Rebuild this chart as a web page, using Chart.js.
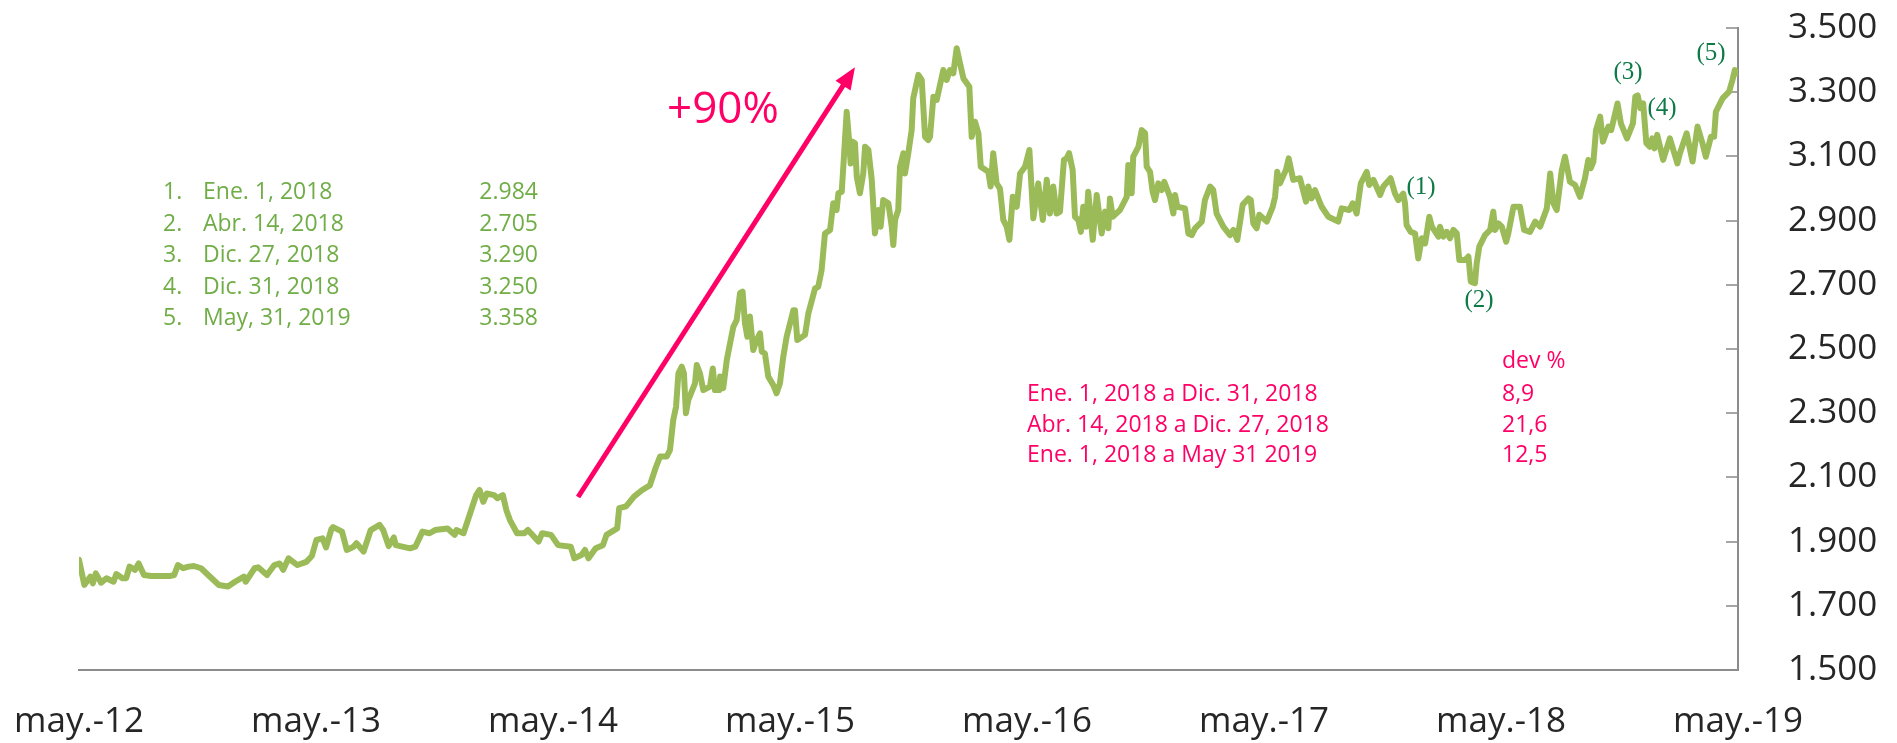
<!DOCTYPE html>
<html>
<head>
<meta charset="utf-8">
<script src="https://cdn.jsdelivr.net/npm/chart.js@4.4.1/dist/chart.umd.min.js"></script>
<style>
  html, body { margin: 0; padding: 0; background: #fff; }
  #wrap { width: 1897px; height: 743px; }
</style>
</head>
<body>
<div id="wrap"><canvas id="lineChart" width="1897" height="743"></canvas></div>
<script>
// meses desde may.-12 (eje x) y valores de la serie
const months = [
  0.00, 0.27, 0.58, 0.70, 0.85, 1.12, 1.39, 1.75, 1.89, 2.20, 2.39, 2.56, 2.84, 3.02, 3.29, 3.65,
  4.64, 4.82, 5.01, 5.28, 5.55, 5.82, 6.18, 6.54, 7.08, 7.54, 7.90, 8.35, 8.44, 8.89, 9.07, 9.52,
  9.89, 10.16, 10.34, 10.61, 11.06, 11.51, 11.79, 12.02, 12.33, 12.51, 12.78, 12.87, 13.32, 13.56,
  13.90, 14.05, 14.41, 14.77, 15.22, 15.40, 15.68, 15.94, 16.04, 16.76, 17.03, 17.39, 17.75, 18.03,
  18.66, 19.02, 19.11, 19.47, 19.83, 20.11, 20.28, 20.47, 20.65, 21.01, 21.19, 21.46, 21.64, 21.82,
  22.18, 22.55, 22.73, 23.27, 23.45, 23.90, 24.26, 24.90, 25.08, 25.44, 25.62, 25.80, 26.16, 26.53,
  26.71, 27.25, 27.35, 27.70, 28.10, 28.50, 28.90, 29.20,
  29.42, 29.76, 29.92, 30.09, 30.23, 30.35, 30.52, 30.63, 30.73, 30.85, 31.19, 31.28, 31.44, 31.61,
  31.95, 32.09, 32.20, 32.42, 32.46, 32.62, 32.80, 33.13, 33.30, 33.47, 33.60, 33.72, 33.84, 33.97,
  34.14, 34.31, 34.48, 34.57, 34.73, 34.90, 35.15, 35.32, 35.49, 35.66, 35.83, 36.17, 36.25, 36.37,
  36.76, 36.93, 37.27, 37.43, 37.60, 37.77, 38.03, 38.19, 38.36, 38.45, 38.62, 38.70, 38.87, 38.99,
  39.07, 39.17, 39.29, 39.38, 39.54, 39.71, 39.80, 39.97, 40.14, 40.30, 40.47, 40.59, 40.72, 40.98,
  41.15, 41.23, 41.32, 41.48, 41.57, 41.74, 41.82, 41.99, 42.16, 42.24, 42.50, 42.67, 42.84, 43.00,
  43.09, 43.26, 43.43, 43.76, 43.93, 44.10, 44.27, 44.44, 44.61, 44.78, 45.08, 45.20, 45.37, 45.54,
  45.66, 46.04, 46.16, 46.29, 46.46, 46.63, 46.80, 46.97, 47.11, 47.28, 47.48, 47.65, 47.90, 48.12,
  48.32, 48.57, 48.80, 49.00, 49.16, 49.33, 49.50, 49.67,
  49.87, 50.01, 50.13, 50.31, 50.43, 50.60, 50.73, 50.85, 50.99, 51.10, 51.33, 51.53, 51.78, 51.95,
  52.12, 52.20, 52.34, 52.71, 53.05, 53.13, 53.30, 53.38, 53.64, 53.81, 53.98, 54.06, 54.23, 54.36,
  54.48, 54.65, 54.82, 54.95, 55.24, 55.41, 55.50, 55.61, 56.00, 56.17, 56.34, 56.51, 56.85, 57.01,
  57.27, 57.43, 57.60, 57.94, 58.28, 58.45, 58.65, 58.92, 59.21, 59.33, 59.46, 59.63, 59.76, 60.14,
  60.44, 60.56, 60.67, 60.81, 61.11, 61.25, 61.48, 61.82, 62.13, 62.24, 62.41, 62.58, 62.92, 63.26,
  63.76, 63.93, 64.32, 64.49, 64.69, 64.90, 65.20, 65.33, 65.54, 65.88, 66.04, 66.41, 66.63, 66.80,
  67.05, 67.14, 67.22, 67.43, 67.65, 67.81,
  67.99, 68.16, 68.37, 68.50, 68.83, 68.91, 69.08, 69.25, 69.42, 69.59, 69.76, 69.89, 70.18, 70.35,
  70.47, 70.68, 70.77, 70.90, 71.19, 71.45, 71.61, 71.70, 71.87, 72.04, 72.26, 72.37, 72.63, 72.96,
  73.17, 73.47, 73.73, 73.98, 74.32, 74.49, 74.65, 74.82, 75.08, 75.24, 75.49, 75.75, 76.00, 76.25,
  76.42, 76.54, 76.68, 76.81, 77.02, 77.16, 77.44, 77.58, 77.90, 78.07, 78.38, 78.68, 78.80, 78.92,
  79.06, 79.20, 79.36, 79.53, 79.66, 79.77, 79.91, 80.21, 80.55, 80.93, 81.06, 81.40, 81.70, 81.95,
  82.20, 82.37, 82.63, 82.79, 82.88, 83.22, 83.55, 83.72, 83.84, 84.00
];

const values = [
  1843, 1765, 1791, 1770, 1801, 1772, 1786, 1775, 1799, 1786, 1786, 1822, 1812, 1832, 1796, 1793,
  1793, 1796, 1827, 1817, 1822, 1824, 1817, 1796, 1765, 1760, 1775, 1791, 1775, 1817, 1820, 1796,
  1827, 1832, 1812, 1848, 1827, 1837, 1855, 1905, 1910, 1882, 1939, 1945, 1931, 1874,
  1884, 1895, 1869, 1936, 1952, 1936, 1886, 1913, 1889, 1879, 1884, 1931, 1926, 1936,
  1941, 1921, 1936, 1926, 1993, 2045, 2061, 2024, 2050, 2045, 2035, 2045, 1998, 1967,
  1926, 1926, 1936, 1900, 1926, 1921, 1889, 1884, 1848, 1858, 1874, 1848, 1879, 1889,
  1921, 1941, 2004, 2010, 2040, 2060, 2075, 2130,
  2165, 2165, 2185, 2279, 2320, 2424, 2445, 2424, 2300, 2341, 2393, 2450, 2424, 2372,
  2383, 2439, 2372, 2372, 2414, 2378, 2466, 2569, 2590, 2674, 2679, 2580, 2538, 2601,
  2497, 2528, 2549, 2492, 2486, 2414, 2388, 2362, 2393, 2476, 2538, 2621, 2621, 2528,
  2544, 2611, 2689, 2694, 2746, 2860, 2871, 2954, 2933, 2985, 2990, 3068, 3239, 3151,
  3078, 3146, 3141, 3037, 2985, 3047, 3130, 3120, 3027, 2860, 2933, 2881, 2964, 2954,
  2881, 2824, 2902, 2933, 3068, 3110, 3047, 3110, 3182, 3281, 3354, 3338, 3161, 3151,
  3161, 3286, 3276, 3369, 3338, 3369, 3359, 3437, 3390, 3343, 3317, 3161, 3208, 3172,
  3068, 3052, 3006, 3110, 3016, 3000, 2902, 2881, 2840, 2974, 2943, 3047, 3068, 3120,
  2907, 3016, 2902, 3027, 2922, 3006, 2922, 2928,
  3089, 3094, 3110, 3058, 2912, 2902, 2865, 2943, 2881, 2990, 2840, 2980, 2860, 2928,
  2876, 2969, 2912, 2933, 2974, 3073, 2985, 3099, 3130, 3182, 3172, 3068, 3052, 2990,
  2964, 3016, 2995, 3021, 2974, 2922, 2980, 2943, 2938, 2860, 2855, 2876, 2897, 2964,
  3006, 2995, 2922, 2881, 2855, 2871, 2840, 2949, 2969, 2964, 2891, 2876, 2918, 2897,
  2943, 2974, 3052, 3016, 3058, 3094, 3027, 3032, 2959, 3006, 2969, 2995, 2943, 2912,
  2897, 2938, 2933, 2954, 2922, 3016, 3052, 3011, 3027, 2980, 3006, 3032, 2985, 2964,
  2984, 2954, 2886, 2865, 2860, 2782,
  2845, 2829, 2912, 2881, 2850, 2881, 2850, 2865, 2845, 2871, 2860, 2777, 2777, 2788,
  2710, 2705, 2767, 2819, 2855, 2871, 2928, 2871, 2891, 2881, 2834, 2860, 2943, 2943,
  2871, 2865, 2897, 2881, 2938, 3047, 2954, 2933, 3058, 3099, 3021, 3011, 2974, 3032,
  3089, 3063, 3084, 3182, 3224, 3146, 3193, 3182, 3265, 3203, 3156, 3203, 3286, 3290,
  3250, 3265, 3141, 3130, 3156, 3125, 3167, 3089, 3156, 3078, 3110, 3172, 3084, 3193,
  3141, 3099, 3161, 3161, 3239, 3281, 3302, 3338, 3369, 3358
];

const yearLabels = ['may.-12', 'may.-13', 'may.-14', 'may.-15', 'may.-16', 'may.-17', 'may.-18', 'may.-19'];

// puntos destacados
const keyDates = ['Ene. 1, 2018', 'Abr. 14, 2018', 'Dic. 27, 2018', 'Dic. 31, 2018', 'May, 31, 2019'];
const keyValues = ['2.984', '2.705', '3.290', '3.250', '3.358'];

const devPeriods = ['Ene. 1, 2018 a Dic. 31, 2018', 'Abr. 14, 2018 a Dic. 27, 2018', 'Ene. 1, 2018 a May 31 2019'];
const devValues = ['8,9', '21,6', '12,5'];

const green = '#70AD47';
const pink = '#FF0066';
const axisGray = '#8c8c8c';

const annotations = {
    id: 'annotations',
    afterDraw(chart) {
        const ctx = chart.ctx;
        const xs = chart.scales.x;
        const ys = chart.scales.y;
        ctx.save();

        // lista de puntos (verde)
        ctx.font = '23px "Open Sans"';
        ctx.fillStyle = green;
        ctx.textBaseline = 'alphabetic';
        keyDates.forEach((d, i) => {
            const y = 199 + i * 31.6;
            ctx.textAlign = 'left';
            ctx.fillText((i + 1) + '.', 163, y);
            ctx.fillText(d, 203, y);
            ctx.textAlign = 'right';
            ctx.fillText(keyValues[i], 538, y);
        });

        // tabla de desviaciones (rosa)
        ctx.fillStyle = pink;
        ctx.textAlign = 'left';
        ctx.fillText('dev %', 1502, 368);
        devPeriods.forEach((p, i) => {
            const y = 401 + i * 30.5;
            ctx.fillText(p, 1027, y);
            ctx.fillText(devValues[i], 1502, y);
        });

        // flecha +90%
        ctx.font = '44px "Open Sans"';
        ctx.fillText('+90%', 667, 123);
        const x1 = xs.getPixelForValue(25.27), y1 = ys.getPixelForValue(2039);
        const x2 = xs.getPixelForValue(39.29), y2 = ys.getPixelForValue(3378);
        const ang = Math.atan2(y2 - y1, x2 - x1);
        ctx.strokeStyle = pink;
        ctx.lineWidth = 5;
        ctx.beginPath();
        ctx.moveTo(x1, y1);
        ctx.lineTo(x2 - 14 * Math.cos(ang), y2 - 14 * Math.sin(ang));
        ctx.stroke();
        ctx.beginPath();
        ctx.moveTo(x2, y2);
        ctx.lineTo(x2 - 22 * Math.cos(ang) + 9 * Math.sin(ang), y2 - 22 * Math.sin(ang) - 9 * Math.cos(ang));
        ctx.lineTo(x2 - 22 * Math.cos(ang) - 9 * Math.sin(ang), y2 - 22 * Math.sin(ang) + 9 * Math.cos(ang));
        ctx.closePath();
        ctx.fill();

        // etiquetas (1)...(5)
        ctx.font = '25px "Liberation Serif"';
        ctx.fillStyle = '#0E7A46';
        ctx.textAlign = 'center';
        ctx.textBaseline = 'middle';
        const marks = [[1421, 187], [1479, 300], [1628, 72], [1662, 108], [1711, 53]];
        marks.forEach((m, i) => ctx.fillText('(' + (i + 1) + ')', m[0], m[1]));

        ctx.restore();
    }
};

function init() {
    const ctx = document.getElementById('lineChart');
    new Chart(ctx, {
        type: 'line',
        data: {
            datasets: [{
                data: months.map((m, i) => ({ x: m, y: values[i] })),
                borderColor: '#9BBB59',
                borderWidth: 6,
                borderJoinStyle: 'round',
                borderCapStyle: 'round',
                pointRadius: 0,
                tension: 0,
                fill: false
            }]
        },
        options: {
            responsive: false,
            animation: false,
            devicePixelRatio: 1,
            layout: { padding: { left: 79, top: 28, right: 0, bottom: 0 } },
            scales: {
                x: {
                    type: 'linear',
                    min: 0,
                    max: 84,
                    grid: { display: false, drawTicks: false },
                    border: { display: true, color: axisGray, width: 2 },
                    ticks: {
                        stepSize: 12,
                        padding: 31,
                        maxRotation: 0,
                        color: '#262626',
                        font: { family: 'Open Sans', size: 35 },
                        callback: v => yearLabels[v / 12]
                    },
                    afterFit: scale => {
                        scale.height = 73;
                        scale.paddingLeft = 0;
                        scale.paddingRight = 0;
                    }
                },
                y: {
                    position: 'right',
                    min: 1500,
                    max: 3500,
                    grid: { drawOnChartArea: false, drawTicks: true, tickLength: -12, color: '#a6a6a6', lineWidth: 2 },
                    border: { display: true, color: axisGray, width: 2 },
                    ticks: {
                        stepSize: 200,
                        padding: 62,
                        color: '#262626',
                        font: { family: 'Open Sans', size: 35 },
                        callback: v => v.toLocaleString('de-DE')
                    },
                    afterFit: scale => {
                        scale.width = 159;
                        scale.paddingTop = 0;
                        scale.paddingBottom = 0;
                    }
                }
            },
            plugins: {
                legend: { display: false },
                tooltip: { enabled: false }
            }
        },
        plugins: [annotations]
    });
}

window.onload = init;
</script>
</body>
</html>
